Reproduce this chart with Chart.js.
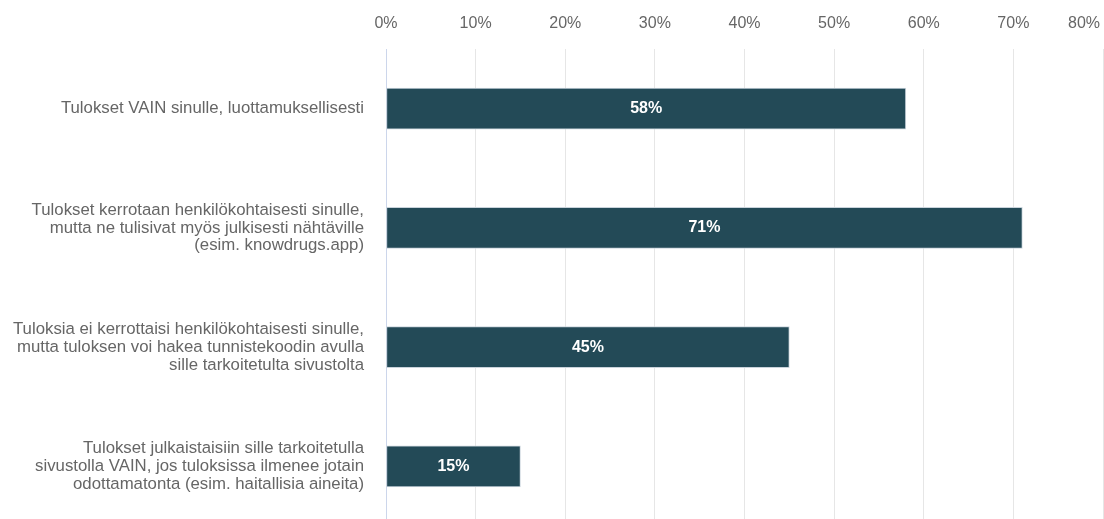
<!DOCTYPE html>
<html>
<head>
<meta charset="utf-8">
<script src="https://cdn.jsdelivr.net/npm/chart.js@4/dist/chart.umd.min.js"></script>
<style>
  html, body { margin: 0; padding: 0; background: #fff; overflow: hidden; }
  #wrap { width: 1104px; height: 526px; position: relative; }
</style>
</head>
<body>
<div id="wrap"><canvas id="chart"></canvas></div>
<script>
const categories = [
    ['Tulokset VAIN sinulle, luottamuksellisesti'],
    ['Tulokset kerrotaan henkilökohtaisesti sinulle,', 'mutta ne tulisivat myös julkisesti nähtäville', '(esim. knowdrugs.app)'],
    ['Tuloksia ei kerrottaisi henkilökohtaisesti sinulle,', 'mutta tuloksen voi hakea tunnistekoodin avulla', 'sille tarkoitetulta sivustolta'],
    ['Tulokset julkaistaisiin sille tarkoitetulla', 'sivustolla VAIN, jos tuloksissa ilmenee jotain', 'odottamatonta (esim. haitallisia aineita)']
];
const values = [58, 71, 45, 15];
const axisMin = 0;
const axisMax = 80;
const axisStep = 10;

const BAR_COLOR = '#234a57';
const TEXT_COLOR = '#666666';
const FONT = '"Liberation Sans", Arial, sans-serif';

// white % labels in the middle of each bar
const barLabels = {
    id: 'barLabels',
    afterDatasetsDraw(chart) {
        const ctx = chart.ctx;
        const meta = chart.getDatasetMeta(0);
        ctx.save();
        ctx.font = 'bold 16px ' + FONT;
        ctx.fillStyle = '#ffffff';
        ctx.textAlign = 'center';
        ctx.textBaseline = 'middle';
        meta.data.forEach((bar, i) => {
            const p = bar.getCenterPoint();
            ctx.fillText(values[i] + '%', p.x, p.y);
        });
        ctx.restore();
    }
};

// keep the last top tick label inside the canvas
const lastTickInside = {
    id: 'lastTickInside',
    beforeDraw(chart) {
        const scale = chart.scales.x;
        const items = scale.getLabelItems();
        const last = items.length - 1;
        if (last < 0) return;
        items[last].options.textAlign = 'right';
        items[last].options.translation[0] = scale.getPixelForTick(last) - 3;
    }
};

const ctx = document.getElementById('chart').getContext('2d');
const chart = new Chart(ctx, {
    type: 'bar',
    data: {
        labels: categories,
        datasets: [{
            data: values,
            backgroundColor: BAR_COLOR,
            borderColor: '#c9d3db',
            borderWidth: 1,
            borderSkipped: false,
            barThickness: 41
        }]
    },
    options: {
        indexAxis: 'y',
        responsive: true,
        maintainAspectRatio: false,
        animation: false,
        layout: { padding: { right: 1 } },
        plugins: {
            legend: { display: false },
            tooltip: { enabled: false }
        },
        scales: {
            x: {
                position: 'top',
                min: axisMin,
                max: axisMax,
                ticks: {
                    stepSize: axisStep,
                    padding: 16,
                    color: TEXT_COLOR,
                    font: { family: FONT, size: 16 },
                    callback: v => v + '%',
                    maxRotation: 0
                },
                grid: { color: '#e6e6e6', drawTicks: false },
                border: { display: false },
                afterFit(scale) {
                    scale.height = 49;
                    scale.paddingLeft = 0;
                    scale.paddingRight = 0;
                }
            },
            y: {
                ticks: {
                    padding: 22,
                    color: TEXT_COLOR,
                    font: { family: FONT, size: 16.8, lineHeight: 1.07 }
                },
                grid: { display: false, drawTicks: false },
                border: { display: true, color: '#ccd6eb', width: 1 },
                afterFit(scale) {
                    scale.width = 386;
                    scale.paddingTop = 0;
                    scale.paddingBottom = 0;
                }
            }
        }
    },
    plugins: [barLabels, lastTickInside]
});
</script>
</body>
</html>
